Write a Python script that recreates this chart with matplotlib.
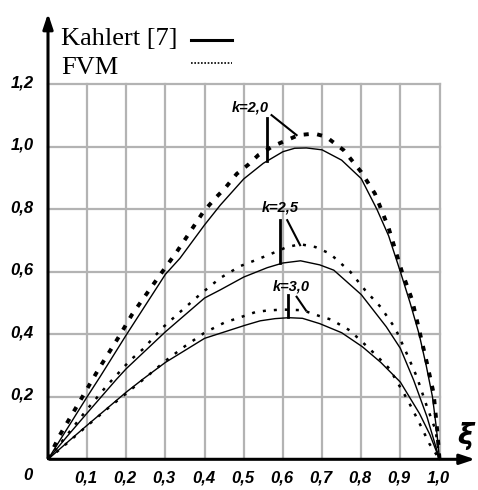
import matplotlib.pyplot as plt

# абсциссы и ординаты кривых
x_k20 = [0, 0.05, 0.1, 0.133, 0.2, 0.3, 0.337, 0.4, 0.44, 0.5, 0.55, 0.6, 0.63, 0.66, 0.7, 0.75,
         0.8, 0.84, 0.87, 0.9, 0.925, 0.948, 0.966, 0.982, 0.992, 1.0]
y_k20 = [0, 0.1, 0.2, 0.264, 0.398, 0.592, 0.643, 0.75, 0.813, 0.897, 0.947, 0.984, 0.995,
         0.996, 0.99, 0.957, 0.898, 0.8, 0.715, 0.6, 0.5, 0.4, 0.3, 0.2, 0.1, 0]

x_k20_fvm = [0, 0.03, 0.08, 0.13, 0.184, 0.214, 0.259, 0.284, 0.329, 0.352, 0.397, 0.427, 0.452,
             0.482, 0.512, 0.537, 0.575, 0.61, 0.64, 0.68, 0.71, 0.755, 0.8, 0.835, 0.87, 0.904,
             0.93, 0.95, 0.968, 0.985, 0.994, 1.0]
y_k20_fvm = [0, 0.077, 0.183, 0.29, 0.398, 0.462, 0.542, 0.586, 0.664, 0.707, 0.792, 0.835, 0.867,
             0.913, 0.943, 0.973, 1.002, 1.021, 1.037, 1.042, 1.032, 0.989, 0.919, 0.85, 0.74,
             0.6, 0.51, 0.403, 0.307, 0.211, 0.094, 0]

x_k25 = [0, 0.05, 0.1, 0.175, 0.2, 0.3, 0.4, 0.44, 0.5, 0.56, 0.6, 0.645, 0.694, 0.73, 0.8,
         0.864, 0.9, 0.934, 0.968, 1.0]
y_k25 = [0, 0.075, 0.148, 0.256, 0.29, 0.408, 0.516, 0.542, 0.583, 0.613, 0.628, 0.635, 0.622,
         0.605, 0.527, 0.424, 0.355, 0.253, 0.136, 0]

x_k25_fvm = [0, 0.05, 0.1, 0.15, 0.21, 0.244, 0.29, 0.338, 0.389, 0.44, 0.491, 0.534, 0.575,
             0.61, 0.645, 0.683, 0.72, 0.772, 0.81, 0.849, 0.887, 0.916, 0.942, 0.968, 0.99, 1.0]
y_k25_fvm = [0, 0.08, 0.16, 0.235, 0.317, 0.354, 0.418, 0.472, 0.528, 0.58, 0.618, 0.639, 0.66,
             0.679, 0.688, 0.679, 0.658, 0.6, 0.541, 0.488, 0.419, 0.339, 0.264, 0.168, 0.093, 0]

x_k30 = [0, 0.05, 0.1, 0.2, 0.243, 0.3, 0.4, 0.504, 0.542, 0.58, 0.615, 0.65, 0.694, 0.75, 0.803,
         0.85, 0.9, 0.949, 0.975, 1.0]
y_k30 = [0, 0.055, 0.109, 0.215, 0.257, 0.31, 0.387, 0.429, 0.443, 0.45, 0.453, 0.451, 0.434,
         0.405, 0.36, 0.31, 0.247, 0.146, 0.08, 0]

x_k30_fvm = [0, 0.05, 0.1, 0.15, 0.2, 0.25, 0.3, 0.35, 0.4, 0.45, 0.5, 0.53, 0.56, 0.6, 0.65,
             0.694, 0.723, 0.77, 0.821, 0.872, 0.919, 0.949, 0.974, 1.0]
y_k30_fvm = [0, 0.053, 0.107, 0.16, 0.211, 0.262, 0.315, 0.362, 0.405, 0.437, 0.458, 0.471,
             0.476, 0.479, 0.477, 0.458, 0.447, 0.413, 0.354, 0.29, 0.189, 0.115, 0.05, 0]

x_ticks = [0.1, 0.2, 0.3, 0.4, 0.5, 0.6, 0.7, 0.8, 0.9, 1.0]
x_labels = ['0,1', '0,2', '0,3', '0,4', '0,5', '0,6', '0,7', '0,8', '0,9', '1,0']
y_ticks = [0.2, 0.4, 0.6, 0.8, 1.0, 1.2]
y_labels = ['0,2', '0,4', '0,6', '0,8', '1,0', '1,2']

k_labels = ['k=2,0', 'k=2,5', 'k=3,0']

fig = plt.figure(figsize=(4.78, 4.90), dpi=100)
ax = fig.add_axes([0, 0, 1, 1])
ax.set_xlim(-0.1226, 1.0983)
ax.set_ylim(-0.0982, 1.4693)
ax.axis('off')

# сетка
grey = '#b3b3b3'
for xv in x_ticks:
    ax.plot([xv, xv], [0, 1.2], color=grey, lw=1.6, zorder=1)
for yv in y_ticks:
    ax.plot([0, 1.0], [yv, yv], color=grey, lw=1.6, zorder=1)

# оси со стрелками
ax.annotate('', xy=(0, 1.435), xytext=(0, -0.003),
            arrowprops=dict(arrowstyle='-|>,head_length=0.9,head_width=0.3', lw=2.2, color='black'))
ax.annotate('', xy=(1.098, 0), xytext=(-0.003, 0),
            arrowprops=dict(arrowstyle='-|>,head_length=0.9,head_width=0.3', lw=2.2, color='black'))

# кривые
ax.plot(x_k20, y_k20, color='black', lw=1.0, zorder=3)
ax.plot(x_k25, y_k25, color='black', lw=1.0, zorder=3)
ax.plot(x_k30, y_k30, color='black', lw=1.0, zorder=3)
ax.plot(x_k20_fvm, y_k20_fvm, color='black', lw=2.8, linestyle=(0, (1.3, 2.2)), zorder=3)
ax.plot(x_k25_fvm, y_k25_fvm, color='black', lw=1.8, linestyle=(0, (1.2, 3.2)), zorder=3)
ax.plot(x_k30_fvm, y_k30_fvm, color='black', lw=1.8, linestyle=(0, (1.2, 3.2)), zorder=3)

# подписи делений
tick_font = dict(family='Liberation Sans', weight='bold', style='italic', size=12)
for xv, s in zip(x_ticks, x_labels):
    ax.text(xv - 0.003, -0.06, s, ha='center', va='center', **tick_font)
for yv, s in zip(y_ticks, y_labels):
    ax.text(-0.037, yv + 0.005, s, ha='right', va='center', **tick_font)
ax.text(-0.051, -0.052, '0', ha='center', va='center', **tick_font)
ax.text(1.066, 0.075, 'ξ', ha='center', va='center', family='DejaVu Sans',
        weight='bold', style='italic', size=20)

# подписи k с выносками
k_font = dict(family='Liberation Sans', weight='bold', style='italic', size=10.5)
ax.text(0.516, 1.124, k_labels[0], ha='center', va='center', **k_font)
ax.plot([0.559, 0.559], [1.092, 0.953], color='black', lw=2.0)
ax.plot([0.571, 0.635], [1.101, 1.037], color='black', lw=1.5)
ax.text(0.593, 0.804, k_labels[1], ha='center', va='center', **k_font)
ax.plot([0.593, 0.593], [0.765, 0.628], color='black', lw=2.0)
ax.plot([0.611, 0.644], [0.765, 0.685], color='black', lw=1.5)
ax.text(0.621, 0.554, k_labels[2], ha='center', va='center', **k_font)
ax.plot([0.614, 0.614], [0.525, 0.455], color='black', lw=2.0)
ax.plot([0.635, 0.659], [0.520, 0.476], color='black', lw=1.5)

# легенда
ax.text(0.033, 1.325, 'Kahlert [7]', ha='left', va='baseline', family='Liberation Serif', size=19)
ax.text(0.033, 1.232, 'FVM', ha='left', va='baseline', family='Liberation Serif', size=19)
ax.plot([0.365, 0.47], [1.341, 1.341], color='black', lw=2.2)
ax.plot([0.365, 0.47], [1.268, 1.268], color='black', lw=1.2, linestyle=(0, (1, 1)))

plt.savefig('out.png', dpi=100)
